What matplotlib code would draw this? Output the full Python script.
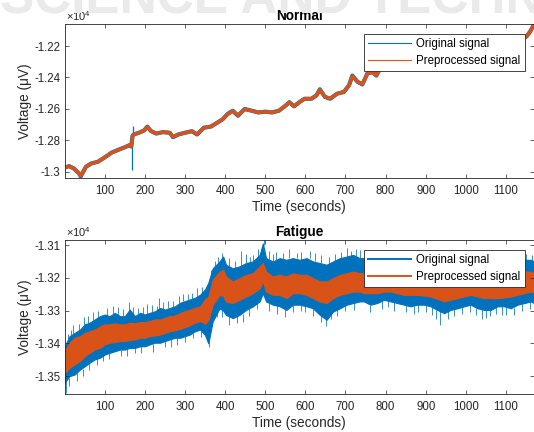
import matplotlib
matplotlib.use('Agg')
import matplotlib.pyplot as plt
from matplotlib.lines import Line2D
from matplotlib.ticker import FuncFormatter

plt.rcParams['font.family'] = ['Liberation Sans', 'DejaVu Sans']
plt.rcParams['mathtext.fontset'] = 'custom'
plt.rcParams['mathtext.rm'] = 'Liberation Sans'
plt.rcParams['axes.unicode_minus'] = False

BLUE = '#0072BD'
ORANGE = '#D95319'
AXC = '#262626'

# ---- Normal: time (s) and voltage (uV)
normal_t = [0, 11, 23, 36, 40, 53, 66, 83, 100, 117, 134, 151, 164, 166, 169,
            172, 185, 198, 206, 215, 228, 245, 262, 270, 283, 300, 317, 330, 347,
            364, 381, 394, 406, 419, 432, 440, 449, 466, 483, 500, 517, 534, 551,
            560, 572, 585, 598, 615, 628, 636, 649, 662, 679, 696, 709, 717, 730,
            742, 755, 768, 777, 789, 802, 850, 900, 950, 1000, 1050, 1100, 1140,
            1151, 1160, 1170]
normal_orig = [-12972, -12963, -12978, -13010, -13028, -12967, -12946, -12935, -12907,
               -12877, -12859, -12842, -12827, -12838, -12770, -12762, -12751,
               -12736, -12712, -12740, -12756, -12747, -12751, -12779, -12762, -12751,
               -12741, -12762, -12719, -12712, -12686, -12665, -12632, -12611, -12643,
               -12622, -12600, -12611, -12622, -12617, -12622, -12611, -12578, -12557,
               -12583, -12557, -12535, -12535, -12513, -12475, -12524, -12535, -12503,
               -12492, -12449, -12388, -12427, -12444, -12373, -12366, -12388, -12330,
               -12330, -12300, -12280, -12260, -12240, -12225, -12205, -12160, -12140,
               -12110, -12065]
normal_prep = [-12972, -12963, -12978, -13008, -13024, -12967, -12946, -12935, -12907,
               -12877, -12859, -12842, -12827, -12836, -12775, -12762, -12751,
               -12736, -12714, -12740, -12756, -12747, -12751, -12777, -12762, -12751,
               -12741, -12760, -12719, -12712, -12686, -12665, -12634, -12613, -12641,
               -12622, -12602, -12611, -12622, -12617, -12622, -12611, -12578, -12559,
               -12583, -12557, -12535, -12535, -12513, -12478, -12522, -12533, -12503,
               -12492, -12449, -12392, -12427, -12442, -12375, -12368, -12388, -12332,
               -12330, -12300, -12280, -12260, -12240, -12225, -12205, -12160, -12140,
               -12110, -12065]
# the artefact spike of the raw signal near 168 s
normal_spike_t = [168, 171]
normal_spike_lo = [-12985, -12790]
normal_spike_hi = [-12790, -12705]

# ---- Fatigue: upper / lower edges of the two noisy bands (uV)
fatigue_t = [0, 12, 25, 38, 50, 62, 75, 88, 100, 112, 125, 138, 150, 162, 175, 188,
             200, 212, 225, 238, 250, 262, 275, 288, 300, 312, 325, 338, 350, 358,
             369, 386, 395, 402, 419, 436, 452, 469, 486, 494, 502, 519, 536, 553,
             569, 586, 603, 619, 636, 653, 669, 686, 703, 719, 736, 746, 762, 779,
             796, 812, 829, 846, 862, 879, 896, 912, 929, 946, 962, 979, 996, 1012,
             1029, 1046, 1062, 1079, 1096, 1112, 1129, 1146, 1162, 1170]
fatigue_orig_hi = [-13409, -13378, -13368, -13358, -13342, -13337, -13327, -13317, -13312,
                   -13317, -13307, -13317, -13317, -13297, -13317, -13307, -13312, -13307,
                   -13302, -13292, -13297, -13292, -13287, -13276, -13271, -13266, -13261,
                   -13251, -13235, -13215, -13171, -13150, -13135, -13160, -13171, -13165,
                   -13155, -13150, -13130, -13095, -13140, -13150, -13140, -13145, -13140,
                   -13145, -13140, -13150, -13155, -13160, -13150, -13140, -13135, -13130,
                   -13140, -13140, -13145, -13140, -13135, -13140, -13140, -13145, -13150,
                   -13145, -13145, -13150, -13160, -13170, -13160, -13155, -13150, -13145,
                   -13150, -13155, -13155, -13150, -13150, -13150, -13145, -13145, -13145,
                   -13150]
fatigue_orig_lo = [-13520, -13500, -13495, -13480, -13470, -13459, -13449, -13444, -13434,
                   -13429, -13424, -13419, -13419, -13414, -13414, -13409, -13409, -13403,
                   -13398, -13398, -13393, -13388, -13383, -13383, -13378, -13373, -13363,
                   -13358, -13375, -13400, -13333, -13293, -13300, -13313, -13323, -13313,
                   -13298, -13287, -13272, -13247, -13272, -13282, -13287, -13298, -13282,
                   -13282, -13287, -13293, -13313, -13328, -13303, -13293, -13282, -13277,
                   -13272, -13272, -13282, -13277, -13267, -13272, -13277, -13282, -13287,
                   -13282, -13282, -13287, -13298, -13308, -13298, -13293, -13287, -13282,
                   -13293, -13298, -13298, -13287, -13287, -13293, -13282, -13277, -13272,
                   -13277]
fatigue_prep_hi = [-13424, -13398, -13383, -13378, -13368, -13363, -13358, -13348, -13342,
                   -13342, -13339, -13342, -13342, -13337, -13339, -13335, -13335, -13332,
                   -13327, -13327, -13322, -13317, -13315, -13307, -13302, -13297, -13292,
                   -13287, -13265, -13258, -13206, -13181, -13175, -13196, -13211, -13201,
                   -13191, -13186, -13165, -13155, -13181, -13196, -13191, -13196, -13186,
                   -13191, -13191, -13201, -13211, -13211, -13201, -13191, -13186, -13181,
                   -13186, -13185, -13190, -13188, -13183, -13185, -13188, -13192, -13195,
                   -13193, -13195, -13197, -13204, -13212, -13207, -13202, -13197, -13192,
                   -13197, -13202, -13202, -13200, -13198, -13195, -13190, -13181, -13181,
                   -13186]
fatigue_prep_lo = [-13490, -13475, -13464, -13454, -13439, -13429, -13419, -13414, -13403,
                   -13398, -13396, -13393, -13393, -13390, -13388, -13383, -13383, -13378,
                   -13376, -13373, -13368, -13363, -13360, -13356, -13350, -13345, -13337,
                   -13332, -13340, -13330, -13282, -13252, -13255, -13272, -13277, -13267,
                   -13257, -13247, -13232, -13211, -13242, -13252, -13252, -13262, -13247,
                   -13247, -13252, -13262, -13272, -13277, -13262, -13252, -13247, -13242,
                   -13242, -13247, -13247, -13247, -13242, -13242, -13247, -13252, -13252,
                   -13252, -13254, -13257, -13264, -13272, -13267, -13262, -13257, -13252,
                   -13257, -13262, -13262, -13262, -13260, -13257, -13252, -13247, -13242,
                   -13245]

# spikes of the raw signal sticking out above the band
spike_up_t = [8, 15, 20, 35, 48, 58, 70, 82, 105, 120, 132, 145, 160, 170, 182, 195,
              205, 218, 230, 236, 245, 258, 270, 285, 295, 308, 318, 330, 343, 365,
              375, 382, 392, 410, 425, 440, 452, 462, 470, 482, 497, 510, 520, 528,
              545, 560, 578, 590, 612, 625, 640, 660, 675, 690, 705, 715, 725, 735,
              1150, 1165]
spike_up_tip = [-13372, -13360, -13345, -13340, -13320, -13318, -13305, -13300, -13292,
                -13285, -13290, -13295, -13275, -13288, -13292, -13290, -13280, -13282,
                -13285, -13262, -13275, -13270, -13272, -13255, -13250, -13248, -13245,
                -13232, -13228, -13175, -13150, -13138, -13125, -13140, -13148, -13118,
                -13128, -13135, -13130, -13112, -13082, -13118, -13128, -13120, -13125,
                -13112, -13125, -13120, -13118, -13125, -13130, -13135, -13128, -13120,
                -13110, -13118, -13112, -13115, -13128, -13130]
spike_up_base = [-13395, -13380, -13380, -13362, -13345, -13340, -13330, -13322, -13315,
                 -13310, -13312, -13317, -13300, -13310, -13310, -13312, -13310, -13305,
                 -13300, -13295, -13295, -13292, -13290, -13280, -13272, -13268, -13264,
                 -13260, -13250, -13200, -13180, -13155, -13150, -13165, -13170, -13165,
                 -13155, -13152, -13150, -13135, -13100, -13145, -13150, -13145, -13142,
                 -13140, -13140, -13145, -13140, -13150, -13155, -13158, -13150, -13140,
                 -13135, -13132, -13132, -13140, -13145, -13148]
# spikes of the raw signal sticking out below the band
spike_dn_t = [4, 10, 30, 45, 60, 80, 95, 110, 140, 155, 175, 190, 220, 250, 265, 280,
              300, 320, 340, 360, 380, 392, 410, 430, 445, 460, 480, 510, 530, 550,
              570, 590, 600, 620, 640, 652, 665, 680, 700, 720, 760, 790, 805, 820,
              850, 870, 880, 900, 915, 925, 936, 955, 970, 990, 1010, 1025, 1040,
              1050, 1060, 1075, 1090, 1100, 1120, 1140, 1160]
spike_dn_tip = [-13552, -13530, -13515, -13500, -13480, -13465, -13455, -13448, -13440,
                -13438, -13430, -13430, -13425, -13412, -13410, -13405, -13395, -13385,
                -13380, -13412, -13320, -13320, -13345, -13338, -13335, -13318, -13295,
                -13300, -13310, -13320, -13305, -13300, -13305, -13318, -13335, -13348,
                -13325, -13318, -13302, -13298, -13305, -13295, -13290, -13300, -13305,
                -13310, -13305, -13305, -13312, -13325, -13345, -13325, -13318, -13310,
                -13305, -13315, -13325, -13322, -13318, -13310, -13312, -13312, -13315,
                -13300, -13295]
spike_dn_base = [-13515, -13505, -13490, -13478, -13458, -13446, -13430, -13429, -13419,
                 -13418, -13410, -13409, -13401, -13393, -13388, -13383, -13375, -13367,
                 -13358, -13380, -13300, -13295, -13318, -13315, -13310, -13292, -13277,
                 -13278, -13285, -13296, -13282, -13282, -13285, -13293, -13315, -13325,
                 -13303, -13295, -13282, -13277, -13282, -13268, -13270, -13274, -13282,
                 -13285, -13280, -13282, -13287, -13298, -13300, -13300, -13295, -13290,
                 -13282, -13293, -13295, -13298, -13298, -13287, -13287, -13288, -13293,
                 -13280, -13272]

xticks = [100, 200, 300, 400, 500, 600, 700, 800, 900, 1000, 1100]
normal_yticks = [-13000, -12800, -12600, -12400, -12200]
fatigue_yticks = [-13500, -13400, -13300, -13200, -13100]
legend_labels = ['Original signal', 'Preprocessed signal']

fig = plt.figure(figsize=(5.34, 4.32), dpi=100)

# faint publisher watermark at the top
fig.text(0.0, 1 - 14 / 432, 'SCIENCE AND TECHNOLOGY', fontsize=37, fontweight='bold',
         color='#eaeaea', ha='left', va='baseline', zorder=0)

ax1 = fig.add_axes([64.7 / 534, 1 - 177.8 / 432, (534 - 64.7) / 534, 154 / 432])
ax2 = fig.add_axes([64.7 / 534, 1 - 393.8 / 432, (534 - 64.7) / 534, 154 / 432])

ax1.plot(normal_t, normal_orig, color=BLUE, lw=3.0)
ax1.vlines(normal_spike_t, normal_spike_lo, normal_spike_hi, color=BLUE, lw=0.9)
ax1.plot(normal_t, normal_prep, color=ORANGE, lw=2.5)

ax2.fill_between(fatigue_t, fatigue_orig_lo, fatigue_orig_hi, color=BLUE, lw=0.8,
                 edgecolor=BLUE)
ax2.vlines(spike_up_t, spike_up_base, spike_up_tip, color=BLUE, lw=0.55)
ax2.vlines(spike_dn_t, spike_dn_base, spike_dn_tip, color=BLUE, lw=0.55)
ax2.fill_between(fatigue_t, fatigue_prep_lo, fatigue_prep_hi, color=ORANGE, lw=0.8,
                 edgecolor=ORANGE)

fmt = FuncFormatter(lambda v, p: f'{v / 1e4:g}')
for ax, title, ylim, yt in [(ax1, 'Normal', (-13037, -12059), normal_yticks),
                            (ax2, 'Fatigue', (-13554, -13084), fatigue_yticks)]:
    ax.set_xlim(0, 1170)
    ax.set_ylim(*ylim)
    ax.set_xticks(xticks)
    ax.set_yticks(yt)
    ax.yaxis.set_major_formatter(fmt)
    ax.tick_params(direction='in', length=3, width=0.5, top=True, right=True,
                   labelsize=8.3, colors=AXC)
    ax.tick_params(axis='x', pad=5)
    ax.tick_params(axis='y', pad=3)
    for s in ax.spines.values():
        s.set_color(AXC)
        s.set_linewidth(0.6)
    ax.set_title(title, fontsize=9.8, fontweight='bold', pad=3, color='black')
    ax.set_xlabel('Time (seconds)', fontsize=9.8, labelpad=2, color=AXC)
    ax.set_ylabel('Voltage (μV)', fontsize=9.8, labelpad=2, color=AXC)
    ax.text(0.003, 1.004, r'$\times10^{4}$', transform=ax.transAxes, ha='left',
            va='bottom', fontsize=8, color=AXC)
    lw_leg = 0.8 if ax is ax1 else 1.4
    handles = [Line2D([], [], color=BLUE, lw=lw_leg), Line2D([], [], color=ORANGE, lw=lw_leg)]
    leg = ax.legend(handles, legend_labels, loc='upper right',
                    bbox_to_anchor=(1 - 9.5 / 469.3, 1 - 10 / 154), borderaxespad=0,
                    fontsize=8.3, fancybox=False, edgecolor=AXC, framealpha=1,
                    handlelength=3.7, handletextpad=0.45, borderpad=0.35,
                    labelspacing=0.45)
    leg.get_frame().set_linewidth(0.6)

fig.savefig('out.png', dpi=100)
